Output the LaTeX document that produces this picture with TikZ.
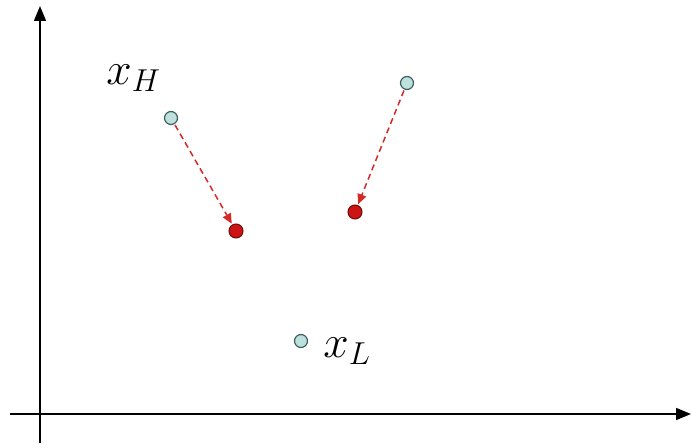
\documentclass[tikz,border=0pt]{standalone}
\usetikzlibrary{arrows.meta}
\definecolor{origfill}{RGB}{190,225,222}
\definecolor{origdraw}{RGB}{60,95,95}
\definecolor{movfill}{RGB}{205,20,20}
\definecolor{movdraw}{RGB}{110,10,10}
\definecolor{arrred}{RGB}{215,40,40}
\begin{document}
\begin{tikzpicture}[x=1pt,y=-1pt,
  axis/.style={line width=1.6pt, -{Triangle[length=15pt,width=12pt]}},
  orig/.style={circle, draw=origdraw, fill=origfill, line width=1.2pt, minimum size=13pt, inner sep=0pt},
  moved/.style={circle, draw=movdraw, fill=movfill, line width=1pt, minimum size=14pt, inner sep=0pt},
  movearrow/.style={arrred, line width=1.5pt, dash pattern=on 6pt off 4pt, shorten <=1pt, shorten >=1pt, -{Triangle[length=10pt,width=9pt]}},
  lbl/.style={inner sep=0pt, font=\huge, scale=2.2}]
\useasboundingbox (0,0) rectangle (691,446);
\coordinate (ybot) at (40,443);
\coordinate (ytop) at (40,6);
\coordinate (xl) at (10,414);
\coordinate (xr) at (691,414);
\draw[axis] (ybot) -- (ytop);
\draw[axis] (xl) -- (xr);
\node[orig] (h) at (171,118) {};
\node[orig] (r) at (407,83) {};
\node[orig] (l) at (301,341) {};
\node[moved] (hm) at (236,231) {};
\node[moved] (rm) at (355,212) {};
\draw[movearrow] (h) -- (hm);
\draw[movearrow] (r) -- (rm);
\node[lbl, anchor=base west] (lh) at (106,85) {$x_H$};
\node[lbl, anchor=base west] (ll) at (323,358) {$x_L$};
\end{tikzpicture}
\end{document}
